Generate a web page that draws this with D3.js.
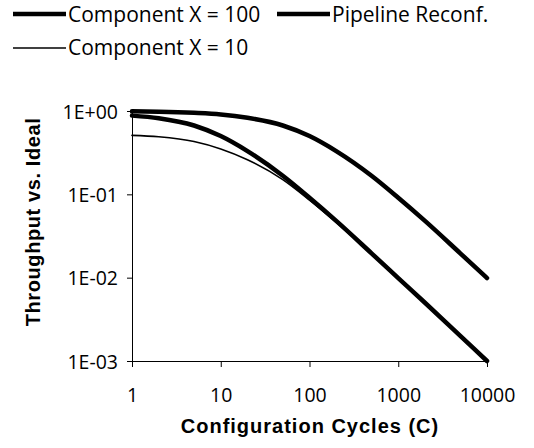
<!DOCTYPE html>
<html><head><meta charset="utf-8">
<script src="https://cdn.jsdelivr.net/npm/d3@7"></script>
<style>body{margin:0;background:#fff}svg{display:block}</style>
</head><body>
<script>
const cycles = [1, 2, 5, 10, 20, 50, 100, 200, 500, 1000, 2000, 5000, 10000];
const compX100 = [0.99, 0.98, 0.95, 0.91, 0.83, 0.67, 0.5, 0.33, 0.167, 0.091, 0.048, 0.0196, 0.0099];
const pipeline = [0.88, 0.82, 0.67, 0.5, 0.33, 0.167, 0.091, 0.048, 0.0196, 0.0099, 0.005, 0.002, 0.001];
const compX10 = [0.51, 0.49, 0.43, 0.35, 0.26, 0.15, 0.085, 0.046, 0.0193, 0.0098, 0.005, 0.002, 0.001];
const xTicks = [1, 10, 100, 1000, 10000];
const yTicks = [1, 0.1, 0.01, 0.001];
const yTickLabels = ["1E+00", "1E-01", "1E-02", "1E-03"];

const W = 534, H = 448;
const svg = d3.select("body").append("svg").attr("width", W).attr("height", H);
const x = d3.scaleLog().domain([1, 10000]).range([132, 487]);
const y = d3.scaleLog().domain([0.001, 1]).range([361, 111]);

// axes
const xa = svg.append("g").attr("transform", "translate(0,361)")
  .call(d3.axisBottom(x).tickValues(xTicks).tickFormat(d3.format("d")).tickSize(6).tickSizeOuter(0));
const ya = svg.append("g").attr("transform", "translate(132,0)")
  .call(d3.axisLeft(y).tickValues(yTicks).tickFormat((d, i) => yTickLabels[i]).tickSize(5).tickSizeOuter(0));
[xa, ya].forEach(g => {
  g.select(".domain").attr("stroke", "#000").attr("stroke-width", 1);
  g.selectAll(".tick line").attr("stroke", "#000");
  g.selectAll("text").attr("font-family", "Open Sans, sans-serif").attr("font-size", 19.5).attr("fill", "#000");
});
xa.selectAll("text").attr("dy", null).attr("y", 41);
ya.selectAll("text").attr("x", -14).attr("dy", "0.36em");

const line = d3.line().x((d, i) => x(cycles[i])).y(d => y(d)).curve(d3.curveMonotoneX);
const series = [
  {v: compX100, w: 4.5},
  {v: pipeline, w: 4.5},
  {v: compX10, w: 1.6}
];
series.forEach(s => {
  svg.append("path").datum(s.v).attr("d", line).attr("fill", "none")
    .attr("stroke", "#000").attr("stroke-width", s.w).attr("stroke-linecap", "round");
});

// titles
svg.append("text").attr("x", 310).attr("y", 433).attr("text-anchor", "middle")
  .attr("font-family", "Liberation Sans, Arial, sans-serif").attr("font-weight", "bold")
  .attr("font-size", 20).attr("letter-spacing", 1).text("Configuration Cycles (C)");
svg.append("text").attr("transform", "translate(40,222) rotate(-90)").attr("text-anchor", "middle")
  .attr("font-family", "Liberation Sans, Arial, sans-serif").attr("font-weight", "bold")
  .attr("font-size", 20).attr("letter-spacing", 0.6).text("Throughput vs. Ideal");

// legend
const legend = [
  {name: "Component X = 100", w: 4.5, lx: 13, ly: 14, ty: 22},
  {name: "Pipeline Reconf.", w: 4.5, lx: 277, ly: 14, ty: 22},
  {name: "Component X = 10", w: 1.6, lx: 13, ly: 48, ty: 55}
];
legend.forEach(l => {
  svg.append("line").attr("x1", l.lx).attr("x2", l.lx + 53).attr("y1", l.ly).attr("y2", l.ly)
    .attr("stroke", "#000").attr("stroke-width", l.w);
  svg.append("text").attr("x", l.lx + 55).attr("y", l.ty)
    .attr("font-family", "Open Sans, sans-serif").attr("font-size", 21).text(l.name);
});
</script>
</body></html>
